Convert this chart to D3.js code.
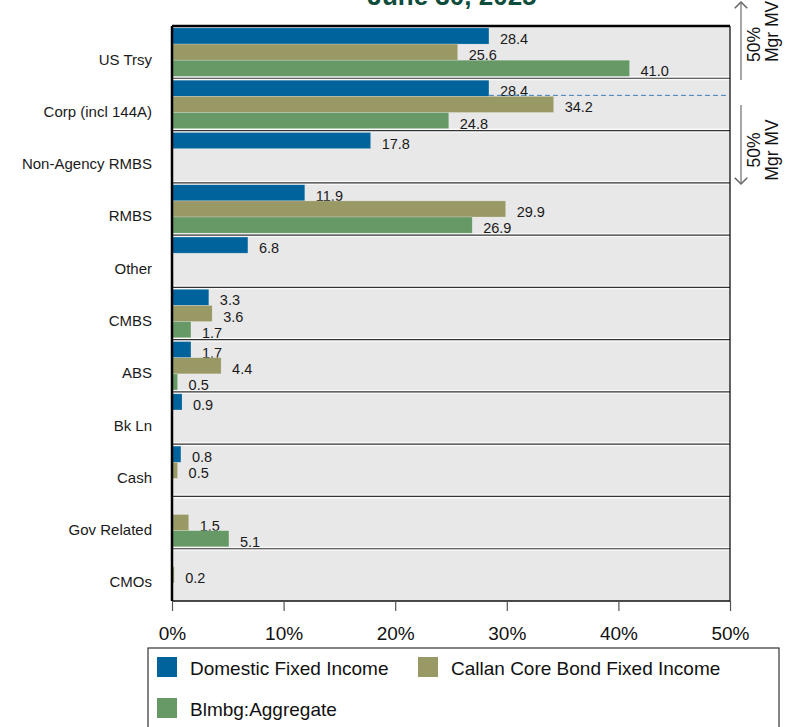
<!DOCTYPE html>
<html>
<head>
<meta charset="utf-8">
<script src="https://cdn.jsdelivr.net/npm/d3@7"></script>
<style>
  body { margin: 0; background: #fff; }
  text { font-family: "Liberation Sans", Arial, sans-serif; }
</style>
</head>
<body>
<div class="bar_chart"></div>
<script>
const categories = ['US Trsy', 'Corp (incl 144A)', 'Non-Agency RMBS', 'RMBS', 'Other', 'CMBS', 'ABS', 'Bk Ln', 'Cash', 'Gov Related', 'CMOs']
const seriesNames = ['Domestic Fixed Income', 'Callan Core Bond Fixed Income', 'Blmbg:Aggregate']
const domestic = [28.4, 28.4, 17.8, 11.9, 6.8, 3.3, 1.7, 0.9, 0.8, null, null]
const callan = [25.6, 34.2, null, 29.9, 0.1, 3.6, 4.4, null, 0.5, 1.5, 0.2]
const aggregate = [41.0, 24.8, null, 26.9, 0.1, 1.7, 0.5, null, null, 5.1, null]
const tickValues = [0, 10, 20, 30, 40, 50]
const colors = ['#00639b', '#999966', '#669966']

const width = 786
const height = 727
const plotLeft = 172
const plotRight = 730
const plotTop = 26
const plotBottom = 601

const svg = d3.select('.bar_chart').append('svg')
  .attr('width', width)
  .attr('height', height)

const x = d3.scaleLinear().domain([0, 50]).range([plotLeft, plotRight])
const y = d3.scaleBand().domain(categories).range([plotTop, plotBottom])
const inner = d3.scaleBand().domain(d3.range(3)).range([0, y.bandwidth()]).paddingOuter(0.12)

// title (cut off at top of the picture, like the source)
svg.append('text')
  .attr('x', 452)
  .attr('y', 5)
  .attr('text-anchor', 'middle')
  .attr('font-size', 26)
  .attr('font-weight', 'bold')
  .attr('fill', '#0e4c3c')
  .text('June 30, 2025')

// plot background
svg.append('rect')
  .attr('x', plotLeft).attr('y', plotTop)
  .attr('width', plotRight - plotLeft).attr('height', plotBottom - plotTop)
  .attr('fill', '#e8e8e8')

// band separators
const seps = svg.append('g')
categories.slice(1).forEach((c) => {
  const yy = y(c)
  seps.append('rect').attr('x', plotLeft).attr('y', yy - 2).attr('width', plotRight - plotLeft).attr('height', 4).attr('fill', '#fafafa')
  seps.append('line').attr('x1', plotLeft).attr('x2', plotRight).attr('y1', yy).attr('y2', yy)
    .attr('stroke', '#333').attr('stroke-width', 1.2)
})

// bars
const series = [domestic, callan, aggregate]
series.forEach((values, s) => {
  const g = svg.append('g')
  const rows = categories.map((c, i) => ({ cat: c, value: values[i] })).filter(d => d.value !== null)
  g.selectAll('rect')
    .data(rows)
    .enter().append('rect')
    .attr('x', x(0))
    .attr('y', d => y(d.cat) + inner(s))
    .attr('width', d => x(d.value) - x(0))
    .attr('height', inner.bandwidth())
    .attr('fill', colors[s])
    .attr('stroke', 'rgba(255,255,255,0.35)')
    .attr('stroke-width', 0.6)
  g.selectAll('text')
    .data(rows.filter(d => d.value >= 0.15))
    .enter().append('text')
    .attr('x', d => x(d.value) + 11)
    .attr('y', d => y(d.cat) + inner(s) + inner.bandwidth() / 2 + 8)
    .attr('font-size', 14.5)
    .attr('fill', '#1a1a1a')
    .text(d => d.value.toFixed(1))
})

// dashed reference line at Corp domestic bar
const corp = categories[1]
svg.append('line')
  .attr('x1', x(domestic[1])).attr('x2', plotRight - 2)
  .attr('y1', y(corp) + inner(0) + inner.bandwidth() - 1)
  .attr('y2', y(corp) + inner(0) + inner.bandwidth() - 1)
  .attr('stroke', '#3b7db5').attr('stroke-width', 1).attr('stroke-dasharray', '5,3')

// frame
svg.append('line').attr('x1', plotLeft).attr('x2', plotRight).attr('y1', plotTop).attr('y2', plotTop).attr('stroke', '#000').attr('stroke-width', 2.5)
svg.append('line').attr('x1', plotLeft).attr('x2', plotRight).attr('y1', plotBottom).attr('y2', plotBottom).attr('stroke', '#111').attr('stroke-width', 1.3)
svg.append('line').attr('x1', plotRight).attr('x2', plotRight).attr('y1', plotTop).attr('y2', plotBottom).attr('stroke', '#111').attr('stroke-width', 1.3)

// x axis
const xAxis = svg.append('g')
  .attr('transform', 'translate(0,' + plotBottom + ')')
  .call(d3.axisBottom(x).tickValues(tickValues).tickSize(10).tickPadding(16).tickFormat(d => d + '%'))
xAxis.select('.domain').remove()
xAxis.selectAll('.tick line').attr('stroke', '#555').attr('stroke-width', 1.2)
xAxis.selectAll('.tick text').attr('font-size', 19).attr('fill', '#111').attr('font-family', '"Liberation Sans", Arial, sans-serif')

// y axis line + category labels
svg.append('line').attr('x1', plotLeft).attr('x2', plotLeft).attr('y1', plotTop).attr('y2', plotBottom).attr('stroke', '#000').attr('stroke-width', 2.5)
svg.append('g').selectAll('text')
  .data(categories)
  .enter().append('text')
  .attr('x', 152)
  .attr('y', d => y(d) + y.bandwidth() / 2 + 12.5)
  .attr('text-anchor', 'end')
  .attr('font-size', 15)
  .attr('fill', '#1a1a1a')
  .text(d => d)

// right annotations
const defs = svg.append('defs')
defs.append('marker')
  .attr('id', 'arr')
  .attr('viewBox', '0 0 10 10')
  .attr('refX', 5).attr('refY', 5)
  .attr('markerWidth', 12).attr('markerHeight', 12)
  .attr('orient', 'auto-start-reverse')
  .append('path')
  .attr('d', 'M1,1 L5,5 L1,9')
  .attr('fill', 'none').attr('stroke', '#666').attr('stroke-width', 1)
svg.append('line').attr('x1', 741).attr('x2', 741).attr('y1', 80).attr('y2', 2)
  .attr('stroke', '#777').attr('stroke-width', 1.3).attr('marker-end', 'url(#arr)')
svg.append('line').attr('x1', 741).attr('x2', 741).attr('y1', 105).attr('y2', 184)
  .attr('stroke', '#777').attr('stroke-width', 1.3).attr('marker-end', 'url(#arr)')

const notes = [
  { cy: 62, anchor: 'start' },
  { cy: 150, anchor: 'middle' }
]
notes.forEach((n) => {
  const g = svg.append('g').attr('font-size', 17.5).attr('fill', '#111')
  g.append('text').attr('transform', 'translate(760,' + n.cy + ') rotate(-90)').attr('text-anchor', n.anchor).text('50%')
  g.append('text').attr('transform', 'translate(778,' + n.cy + ') rotate(-90)').attr('text-anchor', n.anchor).text('Mgr MV')
})

// legend
const legend = svg.append('g')
legend.append('rect')
  .attr('x', 148).attr('y', 648)
  .attr('width', 631).attr('height', 100)
  .attr('fill', '#fff').attr('stroke', '#333').attr('stroke-width', 1.2)
const legendPos = [[157, 657], [418, 657], [157, 698]]
seriesNames.forEach((name, i) => {
  legend.append('rect')
    .attr('x', legendPos[i][0]).attr('y', legendPos[i][1])
    .attr('width', 20).attr('height', 20)
    .attr('fill', colors[i])
  legend.append('text')
    .attr('x', legendPos[i][0] + 33).attr('y', legendPos[i][1] + 18)
    .attr('font-size', 19).attr('fill', '#111')
    .text(name)
})
</script>
</body>
</html>
